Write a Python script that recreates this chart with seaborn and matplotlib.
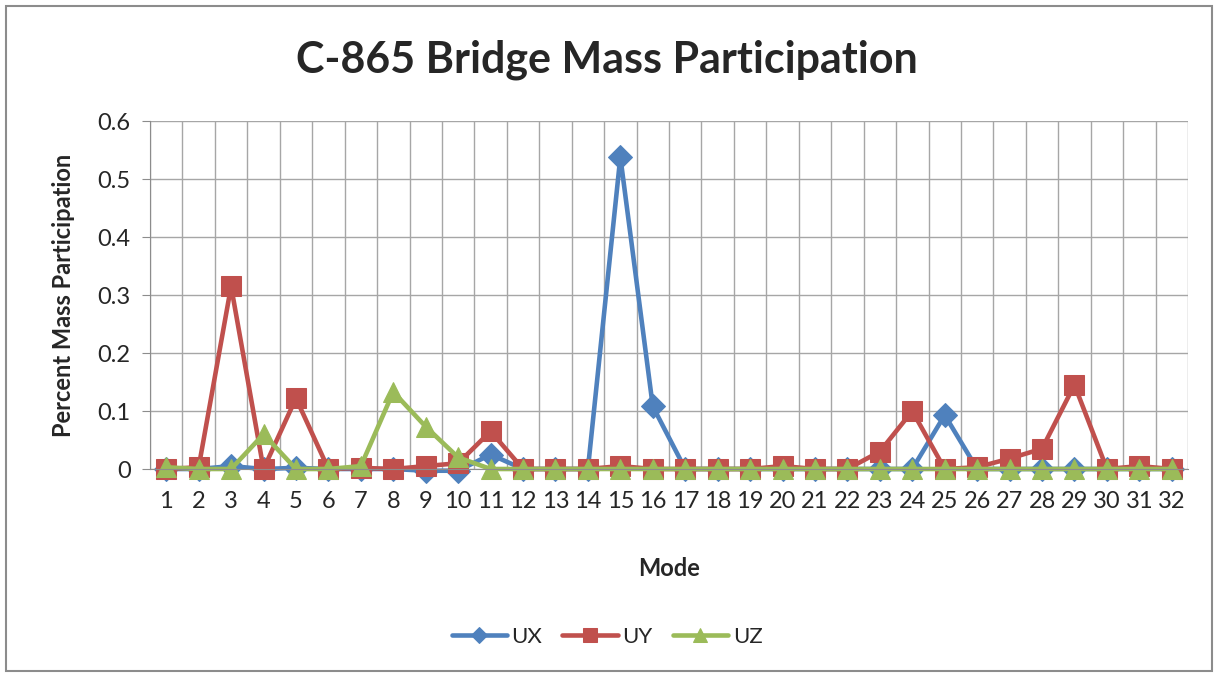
import numpy as np
import pandas as pd
import matplotlib.pyplot as plt
import seaborn as sns
from matplotlib.patches import Rectangle

modes = list(range(1, 33))
ux = [0, 0, 0.005, 0, 0.002, 0, 0, 0, -0.003, -0.003, 0.025, 0, 0, 0, 0.538, 0.108,
      0, 0, 0, 0, 0, 0, 0, 0, 0.093, 0, 0, 0, 0, 0, 0, 0]
uy = [0, 0.003, 0.315, 0, 0.122, 0, 0.002, 0, 0.005, 0.01, 0.065, 0, 0, 0, 0.005, 0,
      0, 0, 0, 0.005, 0, 0, 0.03, 0.1, 0, 0.003, 0.018, 0.035, 0.145, 0, 0.005, 0]
uz = [0.003, 0, 0, 0.06, 0, 0, 0.005, 0.133, 0.073, 0.02, 0, 0, 0, 0, 0, 0,
      0, 0, 0, 0, 0, 0, 0, 0, 0, 0, 0, 0, 0, 0, 0, 0]

sns.set_style('white')
plt.rcParams['font.family'] = ['Lato', 'DejaVu Sans']

fig = plt.figure(figsize=(12.14, 6.74), dpi=100)
ax = fig.add_axes([150 / 1214, 1 - 469 / 674, (1188 - 150) / 1214, (469 - 121) / 674])

series = [('UX', ux, '#4F81BD', 'D', 12), ('UY', uy, '#C0504D', 's', 14), ('UZ', uz, '#9BBB59', '^', 14)]
for name, vals, col, mk, ms in series:
    sns.lineplot(x=modes, y=vals, ax=ax, color=col, marker=mk, markersize=ms,
                 markeredgecolor=col, linewidth=3.3, label=name, clip_on=False)

ax.set_xlim(0.5, 32.5)
ax.set_ylim(0, 0.6)
ax.set_xticks(modes)
ax.set_xticks(np.arange(0.5, 33, 1), minor=True)
ax.set_xticklabels([str(m) for m in modes], fontsize=17)
ax.set_yticks(np.arange(0, 0.61, 0.1))
ax.set_yticklabels(['0', '0.1', '0.2', '0.3', '0.4', '0.5', '0.6'], fontsize=17)
ax.tick_params(axis='x', which='major', length=0, pad=16)
ax.tick_params(axis='x', which='minor', length=6, color='#8c8c8c', direction='out')
ax.tick_params(axis='y', length=6, color='#8c8c8c', direction='out', left=True, pad=8)
ax.grid(True, which='minor', axis='x', color='#a6a6a6', linewidth=1)
ax.grid(True, which='major', axis='y', color='#a6a6a6', linewidth=1)
for s in ['top', 'right']:
    ax.spines[s].set_visible(False)
for s in ['left', 'bottom']:
    ax.spines[s].set_color('#8c8c8c')

ax.set_xlabel('Mode', fontsize=17, fontweight='bold', labelpad=32)
ax.set_ylabel('Percent Mass Participation', fontsize=17, fontweight='bold', labelpad=16)
fig.text(0.5, 1 - 60 / 674, 'C-865 Bridge Mass Participation', ha='center', va='center',
         fontsize=31, fontweight='bold')

ax.legend(loc='center', bbox_to_anchor=(0.5, 1 - 637 / 674), bbox_transform=fig.transFigure,
          ncol=3, frameon=False, fontsize=16, handlelength=2.5, columnspacing=0.9,
          handletextpad=0.2, markerscale=0.7)

fig.patches.append(Rectangle((6 / 1214, 0.004), 1 - 8 / 1214, 1 - 6 / 674 - 0.004,
                             transform=fig.transFigure, fill=False, edgecolor='#8c8c8c', linewidth=1.5))

fig.savefig('out.png', dpi=100)
